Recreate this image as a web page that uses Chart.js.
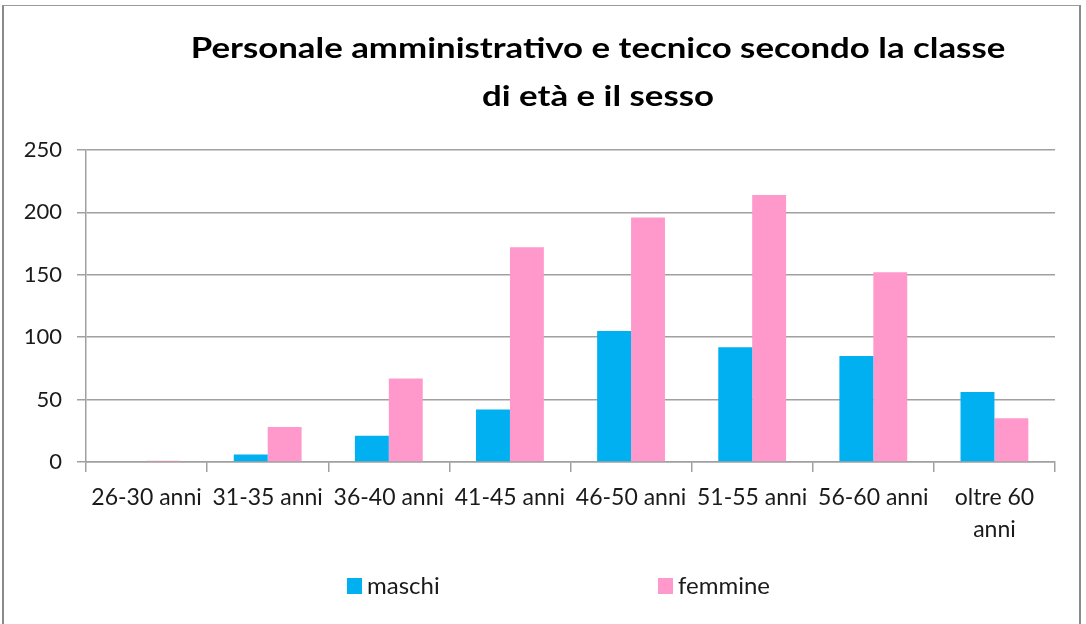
<!DOCTYPE html>
<html>
<head>
<meta charset="utf-8">
<script src="https://cdn.jsdelivr.net/npm/chart.js@4.4.0/dist/chart.umd.min.js"></script>
<style>
  html, body { margin: 0; padding: 0; background: #fff; }
  #wrap { position: relative; width: 1086px; height: 624px; overflow: hidden; }
  #frame { position: absolute; left: 2px; top: 5px; width: 1079px; height: 700px;
           border-left: 2px solid #8a8a8a; border-top: 1px solid #9a9a9a; border-right: 2px solid #8a8a8a; box-sizing: border-box; pointer-events: none; }
  canvas { position: absolute; left: 0; top: 0; }
</style>
</head>
<body>
<div id="wrap">
  <canvas id="c" width="1086" height="624"></canvas>
  <div id="frame"></div>
</div>
<script>
const titleLines = ["Personale amministrativo e tecnico secondo la classe", "di età e il sesso"];
const categories = ["26-30 anni", "31-35 anni", "36-40 anni", "41-45 anni", "46-50 anni", "51-55 anni", "56-60 anni", ["oltre 60", "anni"]];
const seriesNames = ["maschi", "femmine"];
const maschi = [0, 6, 21, 42, 105, 92, 85, 56];
const femmine = [1, 28, 67, 172, 196, 214, 152, 35];
const seriesColors = ["#00B0F0", "#FF99CC"];
const yTicks = [0, 50, 100, 150, 200, 250];

const FONT = "Lato, 'Open Sans', sans-serif";
const gridColor = "#a0a0a0";

const titlePlugin = {
  id: 'customTitle',
  afterDraw(chart) {
    const ctx = chart.ctx;
    ctx.save();
    ctx.fillStyle = "#000";
    ctx.font = "bold 29px " + FONT;
    ctx.textAlign = "center";
    ctx.textBaseline = "middle";
    const cx = 598, y0 = 49, lh = 48;
    const sx = 1.2;
    ctx.scale(sx, 1);
    titleLines.forEach((t, i) => ctx.fillText(t, cx / sx, y0 + i * lh));
    ctx.restore();
  }
};

const legendPlugin = {
  id: 'customLegend',
  afterDraw(chart) {
    const ctx = chart.ctx;
    ctx.save();
    ctx.font = "24px " + FONT;
    ctx.textBaseline = "middle";
    ctx.textAlign = "left";
    const xs = [347, 658];
    chart.data.datasets.forEach((ds, i) => {
      ctx.fillStyle = ds.backgroundColor;
      ctx.fillRect(xs[i], 578, 15, 16);
      ctx.fillStyle = "#1a1a1a";
      ctx.fillText(ds.label, xs[i] + 20, 586);
    });
    ctx.restore();
  }
};

new Chart(document.getElementById('c'), {
  type: 'bar',
  data: {
    labels: categories,
    datasets: [
      { label: seriesNames[0], data: maschi, backgroundColor: seriesColors[0] },
      { label: seriesNames[1], data: femmine, backgroundColor: seriesColors[1] }
    ]
  },
  options: {
    responsive: false,
    animation: false,
    devicePixelRatio: 1,
    categoryPercentage: 0.56,
    barPercentage: 1.0,
    layout: { padding: { top: 150, left: 4, right: 31, bottom: 82 } },
    plugins: {
      legend: { display: false },
      title: { display: false },
      tooltip: { enabled: false }
    },
    scales: {
      x: {
        offset: true,
        afterFit(scale) { scale.height = 80; },
        grid: { offset: true, drawOnChartArea: false, drawTicks: true, tickLength: 10, color: gridColor, lineWidth: 1.5 },
        border: { display: true, color: gridColor, width: 1.5 },
        ticks: { color: "#1a1a1a", font: { family: FONT, size: 23, lineHeight: 1.4 }, padding: 9, maxRotation: 0, autoSkip: false }
      },
      y: {
        min: 0, max: 250,
        afterFit(scale) { scale.width = 82; },
        afterBuildTicks(scale) { scale.ticks = yTicks.map(v => ({ value: v })); },
        grid: { color: gridColor, lineWidth: 1.5, tickLength: 9, drawTicks: true },
        border: { display: true, color: gridColor, width: 1.5 },
        ticks: { color: "#1a1a1a", font: { family: FONT, size: 22 }, padding: 15 }
      }
    }
  },
  plugins: [titlePlugin, legendPlugin]
});
</script>
</body>
</html>
